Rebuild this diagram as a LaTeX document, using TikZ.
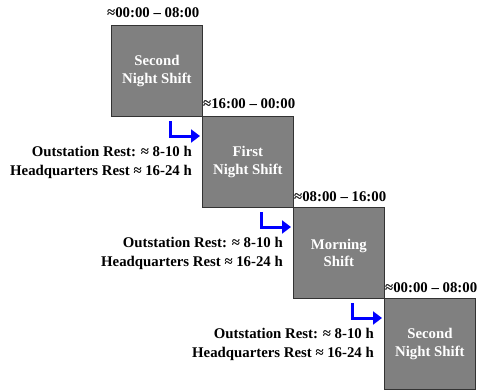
\documentclass[tikz,border=0pt]{standalone}
\usepackage{fontspec}
\setmainfont{Liberation Serif}
\usetikzlibrary{arrows.meta}
\definecolor{shiftgray}{HTML}{808080}
\definecolor{arrowblue}{HTML}{0000FF}
\tikzset{
  shiftbox/.style={draw=black!80, line width=0.8pt, fill=shiftgray, minimum width=91pt, minimum height=91pt, inner sep=0pt, text=white, font=\bfseries\fontsize{14.8}{17.5}\selectfont, align=center, anchor=north west},
  timelabel/.style={font=\bfseries\fontsize{14.8}{17}\selectfont, inner sep=0pt},
  restlabel/.style={font=\bfseries\fontsize{14.8}{19}\selectfont, inner sep=0pt, align=right, anchor=east},
  restarrow/.style={draw=arrowblue, line width=3pt, -{Triangle[length=9pt,width=13pt]}}
}
\begin{document}
\begin{tikzpicture}[x=1pt,y=-1pt]
\useasboundingbox (0,0) rectangle (482,391);
\node[shiftbox] (b1) at (111,25) {Second\\Night Shift};
\node[shiftbox] (b2) at (202,116) {First\\Night Shift};
\node[shiftbox] (b3) at (293,207) {Morning\\Shift};
\node[shiftbox] (b4) at (384,298) {Second\\Night Shift};
\node[timelabel, anchor=west] (t1) at (107,13) {≈00:00 – 08:00};
\node[timelabel, anchor=west] (t2) at (203,104) {≈16:00 – 00:00};
\node[timelabel, anchor=west] (t3) at (294,197) {≈08:00 – 16:00};
\node[timelabel, anchor=west] (t4) at (385,288) {≈00:00 – 08:00};
\node[restlabel] (r1) at (192,162) {Outstation Rest: ≈ 8-10 h\\Headquarters Rest ≈ 16-24 h};
\node[restlabel] (r2) at (283,253) {Outstation Rest: ≈ 8-10 h\\Headquarters Rest ≈ 16-24 h};
\node[restlabel] (r3) at (374,344) {Outstation Rest: ≈ 8-10 h\\Headquarters Rest ≈ 16-24 h};
\coordinate (a1s) at (170.5,121);
\coordinate (a1e) at (200,136);
\coordinate (a2s) at (261.5,212);
\coordinate (a2e) at (291,227);
\coordinate (a3s) at (352.5,303);
\coordinate (a3e) at (382,318);
\draw[restarrow] (a1s) |- (a1e);
\draw[restarrow] (a2s) |- (a2e);
\draw[restarrow] (a3s) |- (a3e);
\end{tikzpicture}
\end{document}
